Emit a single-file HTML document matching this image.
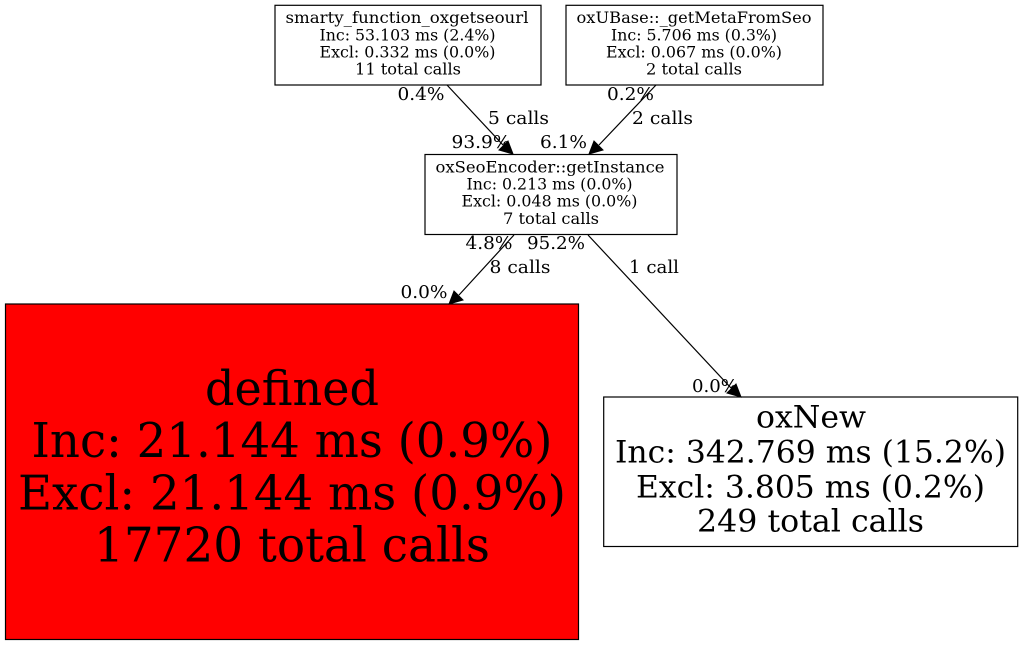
<!DOCTYPE html>
<html>
<head>
<meta charset="utf-8">
<style>
html,body{margin:0;padding:0;background:#fff;width:1023px;height:645px;overflow:hidden}
svg{display:block}
text{font-family:"DejaVu Serif",serif;fill:#000;text-anchor:middle}
.s{font-size:15.6px}
.e{font-size:18px}
.m{font-size:31px}
.l{font-size:47.5px}
</style>
</head>
<body>
<svg width="1023" height="645" viewBox="0 0 1023 645" xmlns="http://www.w3.org/2000/svg">
<rect width="1023" height="645" fill="#fff"/>
<g fill="none" stroke="#000" stroke-width="1.2">
<rect x="275" y="5.3" width="266" height="79.7"/>
<rect x="566" y="5.3" width="257" height="79.7"/>
<rect x="425" y="154.5" width="252" height="80"/>
<rect x="5.5" y="304" width="573" height="335.5" fill="#f00"/>
<rect x="603.7" y="397" width="414" height="149.5"/>
<path d="M447 85L503 145"/>
<path d="M656 85L599 145"/>
<path d="M514 235L459 295"/>
<path d="M588 235L731 388"/>
</g>
<g fill="#000" stroke="#000" stroke-width="1">
<polygon points="513,154 499,150 508,141"/>
<polygon points="589,154 594,141 603,150"/>
<polygon points="449,304 454,291 463,300"/>
<polygon points="741,397 727,393 736,384"/>
</g>
<g>
<text class="s" x="407" y="23" textLength="243" lengthAdjust="spacingAndGlyphs">smarty_function_oxgetseourl</text>
<text class="s" x="407.5" y="40.5" textLength="176" lengthAdjust="spacingAndGlyphs">Inc: 53.103 ms (2.4%)</text>
<text class="s" x="407.5" y="57.5" textLength="176" lengthAdjust="spacingAndGlyphs">Excl: 0.332 ms (0.0%)</text>
<text class="s" x="408" y="74.5" textLength="106" lengthAdjust="spacingAndGlyphs">11 total calls</text>
<text class="s" x="694" y="23" textLength="235" lengthAdjust="spacingAndGlyphs">oxUBase::_getMetaFromSeo</text>
<text class="s" x="694" y="40.5" textLength="166" lengthAdjust="spacingAndGlyphs">Inc: 5.706 ms (0.3%)</text>
<text class="s" x="694" y="57.5" textLength="176" lengthAdjust="spacingAndGlyphs">Excl: 0.067 ms (0.0%)</text>
<text class="s" x="694" y="74.5" textLength="96" lengthAdjust="spacingAndGlyphs">2 total calls</text>
<text class="s" x="550" y="172.5" textLength="229" lengthAdjust="spacingAndGlyphs">oxSeoEncoder::getInstance</text>
<text class="s" x="549.5" y="189.5" textLength="166" lengthAdjust="spacingAndGlyphs">Inc: 0.213 ms (0.0%)</text>
<text class="s" x="549.5" y="206.5" textLength="176" lengthAdjust="spacingAndGlyphs">Excl: 0.048 ms (0.0%)</text>
<text class="s" x="551" y="224" textLength="96" lengthAdjust="spacingAndGlyphs">7 total calls</text>
</g>
<text class="e" x="421" y="100" textLength="47" lengthAdjust="spacingAndGlyphs">0.4%</text>
<text class="e" x="518.5" y="124" textLength="61" lengthAdjust="spacingAndGlyphs">5 calls</text>
<text class="e" x="481" y="148" textLength="59" lengthAdjust="spacingAndGlyphs">93.9%</text>
<text class="e" x="563.5" y="148" textLength="47" lengthAdjust="spacingAndGlyphs">6.1%</text>
<text class="e" x="630.5" y="100" textLength="47" lengthAdjust="spacingAndGlyphs">0.2%</text>
<text class="e" x="662.5" y="124" textLength="61" lengthAdjust="spacingAndGlyphs">2 calls</text>
<text class="e" x="489" y="249" textLength="47" lengthAdjust="spacingAndGlyphs">4.8%</text>
<text class="e" x="556" y="249" textLength="58" lengthAdjust="spacingAndGlyphs">95.2%</text>
<text class="e" x="520" y="273" textLength="61" lengthAdjust="spacingAndGlyphs">8 calls</text>
<text class="e" x="654" y="273" textLength="50" lengthAdjust="spacingAndGlyphs">1 call</text>
<text class="e" x="424" y="298" textLength="47" lengthAdjust="spacingAndGlyphs">0.0%</text>
<text class="e" x="715" y="392" textLength="46" lengthAdjust="spacingAndGlyphs">0.0%</text>
<text class="l" x="292" y="405" textLength="174" lengthAdjust="spacingAndGlyphs">defined</text>
<text class="l" x="292" y="457" textLength="521" lengthAdjust="spacingAndGlyphs">Inc: 21.144 ms (0.9%)</text>
<text class="l" x="292" y="509.5" textLength="548" lengthAdjust="spacingAndGlyphs">Excl: 21.144 ms (0.9%)</text>
<text class="l" x="292" y="561.5" textLength="396" lengthAdjust="spacingAndGlyphs">17720 total calls</text>
<text class="m" x="811" y="427.5" textLength="110" lengthAdjust="spacingAndGlyphs">oxNew</text>
<text class="m" x="810.5" y="462.5" textLength="391" lengthAdjust="spacingAndGlyphs">Inc: 342.769 ms (15.2%)</text>
<text class="m" x="810.5" y="497.5" textLength="349" lengthAdjust="spacingAndGlyphs">Excl: 3.805 ms (0.2%)</text>
<text class="m" x="810.5" y="531.5" textLength="227" lengthAdjust="spacingAndGlyphs">249 total calls</text>
</svg>
</body>
</html>
